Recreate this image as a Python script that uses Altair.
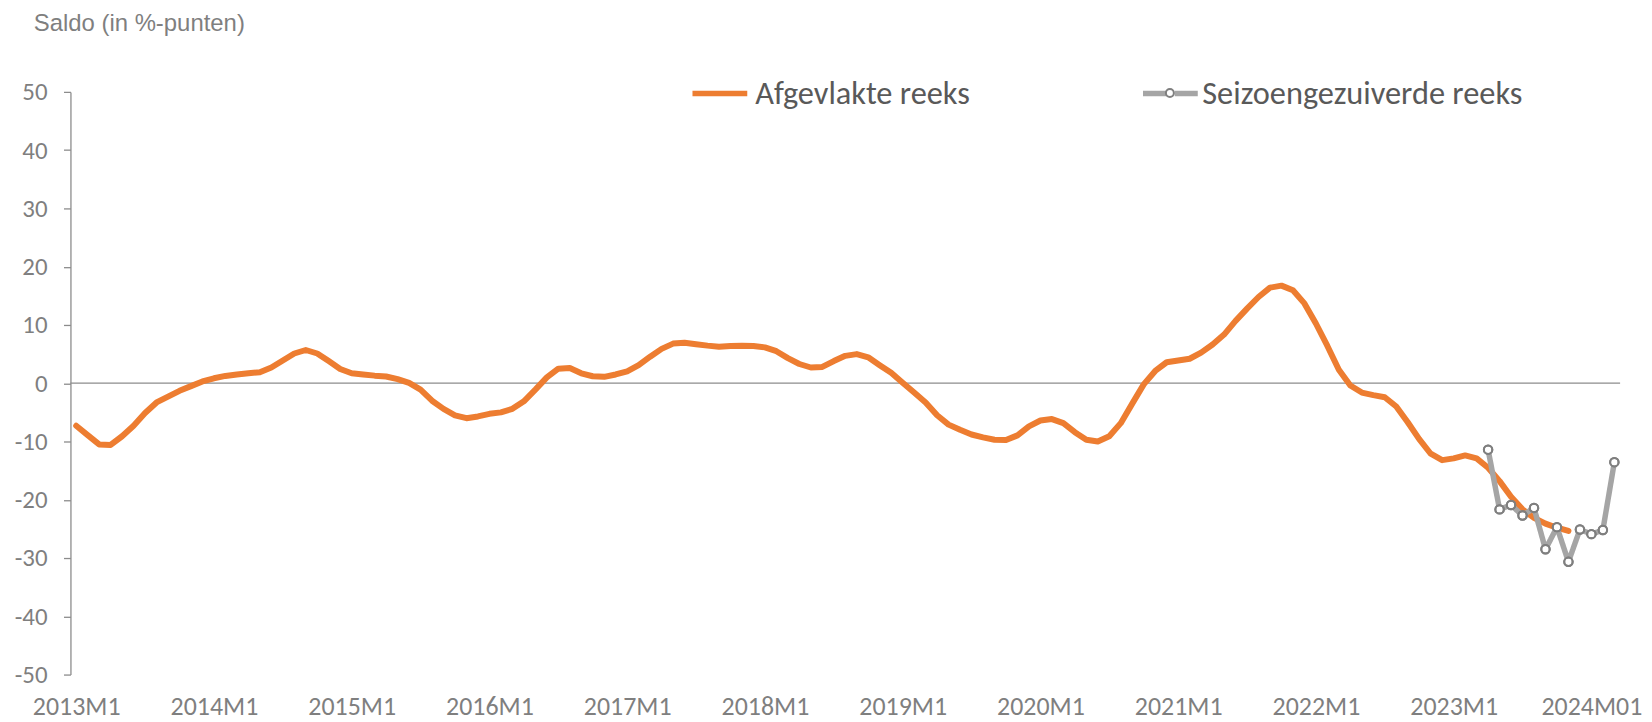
import json
import altair as alt
import pandas as pd

# ---------------- data ----------------
SMOOTH_NAME = "Afgevlakte reeks"
SEAS_NAME = "Seizoengezuiverde reeks"
Y_TITLE = "Saldo (in %-punten)"

# month index 0 = 2013M1
smooth_start = 0
smooth_values = [
    -7.3, -8.9, -10.5, -10.6, -9.1, -7.3, -5.1, -3.3, -2.3, -1.3, -0.5, 0.3,
    0.85, 1.25, 1.5, 1.7, 1.9, 2.7, 3.9, 5.1, 5.7, 5.1, 3.8, 2.45,
    1.7, 1.5, 1.3, 1.15, 0.7, 0.05, -1.1, -3.0, -4.4, -5.5, -6.0, -5.7,
    -5.25, -5.0, -4.4, -3.1, -1.1, 1.0, 2.5, 2.6, 1.7, 1.2, 1.1, 1.5,
    2.05, 3.1, 4.55, 5.9, 6.8, 6.95, 6.7, 6.45, 6.25, 6.4, 6.45, 6.4,
    6.15, 5.5, 4.3, 3.3, 2.7, 2.8, 3.8, 4.7, 5.0, 4.45, 3.1, 1.8,
    0.1, -1.6, -3.3, -5.5, -7.1, -8.0, -8.8, -9.3, -9.7, -9.75, -8.95, -7.4,
    -6.4, -6.15, -6.85, -8.4, -9.7, -10.0, -9.1, -6.85, -3.5, -0.2, 2.1, 3.6,
    3.9, 4.2, 5.25, 6.65, 8.35, 10.7, 12.8, 14.8, 16.4, 16.75, 15.95, 13.7,
    10.25, 6.4, 2.3, -0.4, -1.6, -2.05, -2.4, -4.0, -6.7, -9.6, -12.1, -13.2,
    -12.9, -12.4, -12.9, -14.5, -16.8, -19.5, -21.65, -23.1, -24.1, -24.8, -25.35,
]

seas_start = 123
seas_values = [-11.4, -21.65, -20.9, -22.7, -21.4, -28.5, -24.7, -30.65,
               -25.1, -25.9, -25.2, -13.55]

tick_positions = [0, 12, 24, 36, 48, 60, 72, 84, 96, 108, 120, 132]
tick_labels = ["2013M1", "2014M1", "2015M1", "2016M1", "2017M1", "2018M1",
               "2019M1", "2020M1", "2021M1", "2022M1", "2023M1", "2024M01"]
y_ticks = [-50, -40, -30, -20, -10, 0, 10, 20, 30, 40, 50]
x_domain = [-0.5, 134.5]
y_domain = [-50, 50]

df_smooth = pd.DataFrame({
    "idx": list(range(smooth_start, smooth_start + len(smooth_values))),
    "value": smooth_values,
    "series": SMOOTH_NAME,
})
df_seas = pd.DataFrame({
    "idx": list(range(seas_start, seas_start + len(seas_values))),
    "value": seas_values,
    "series": SEAS_NAME,
    "marker": "marker",
})
df_zero = pd.DataFrame({"value": [0]})

# ---------------- styles ----------------
ORANGE = "#ED7D31"
GRAY = "#A5A5A5"
MARKER_STROKE = "#7F7F7F"
AXIS_GRAY = "#8C8C8C"
LABEL_GRAY = "#7F7F7F"
LEGEND_TEXT = "#595959"
TICK_FONT = "Carlito, Calibri, Lato"
TITLE_FONT = "Liberation Sans, Arial"

label_expr = json.dumps(tick_labels) + "[indexof(" + json.dumps(tick_positions) + ", datum.value)]"
y_label_expr = "datum.value < 0 ? '-' + abs(datum.value) : '' + datum.value"

x_enc = alt.X(
    "idx:Q",
    scale=alt.Scale(domain=x_domain, nice=False, zero=False),
    axis=alt.Axis(values=tick_positions, labelExpr=label_expr, domain=False,
                  ticks=False, grid=False, title=None, labelFont=TICK_FONT,
                  labelFontSize=26, labelColor=LABEL_GRAY, labelPadding=19.5,
                  labelFlush=False, labelOverlap=False, labelBound=False),
)
y_enc = alt.Y(
    "value:Q",
    scale=alt.Scale(domain=y_domain, nice=False, zero=False),
    axis=alt.Axis(values=y_ticks, labelExpr=y_label_expr, grid=False,
                  domainColor=AXIS_GRAY,
                  domainWidth=1.3, tickColor=AXIS_GRAY, tickWidth=1.3,
                  tickSize=7, labelFont=TICK_FONT, labelFontSize=25,
                  labelColor=LABEL_GRAY, labelPadding=16.5,
                  title=Y_TITLE, titleAngle=0, titleAlign="left",
                  titleBaseline="alphabetic", titleX=-37.4, titleY=-61.5,
                  titleFont=TITLE_FONT, titleFontSize=24,
                  titleFontWeight="normal", titleColor=LABEL_GRAY),
)

zero_rule = alt.Chart(df_zero).mark_rule(color=AXIS_GRAY, strokeWidth=1.3).encode(
    y=alt.Y("value:Q")
)

LEG_Y = -28.8
LEG_B_X = 1073.8

legend_common = dict(orient="none", direction="horizontal", title=None,
                     padding=0, labelFont=TICK_FONT, labelFontSize=32.5,
                     labelColor=LEGEND_TEXT, labelLimit=600)

smooth_line = alt.Chart(df_smooth).mark_line(
    strokeWidth=6, strokeCap="round", strokeJoin="round"
).encode(
    x=x_enc, y=y_enc,
    color=alt.Color("series:N",
                    scale=alt.Scale(domain=[SMOOTH_NAME], range=[ORANGE]),
                    legend=alt.Legend(legendX=621.5, legendY=LEG_Y,
                                      symbolType="stroke", symbolSize=3025,
                                      symbolStrokeWidth=5.5, labelOffset=5,
                                      **legend_common)),
)

seas_line = alt.Chart(df_seas).mark_line(
    color=GRAY, strokeWidth=5.5, strokeJoin="round"
).encode(
    x="idx:Q", y="value:Q",
    strokeDash=alt.StrokeDash("series:N",
                              scale=alt.Scale(domain=[SEAS_NAME], range=[[1, 0]]),
                              legend=alt.Legend(legendX=LEG_B_X, legendY=LEG_Y,
                                                symbolType="M-1,0H-0.16M0.16,0H1",
                                                symbolSize=3025,
                                                symbolStrokeWidth=5.5,
                                                symbolStrokeColor=GRAY,
                                                labelOffset=1.5,
                                                **legend_common)),
)

seas_points = alt.Chart(df_seas).mark_point(
    filled=True, fill="white", stroke=MARKER_STROKE, strokeWidth=2,
    size=72, opacity=1
).encode(x="idx:Q", y="value:Q")

seas_rings = alt.Chart(df_seas).mark_point(
    filled=False, color=MARKER_STROKE, strokeWidth=2, size=72, opacity=1
).encode(
    x="idx:Q", y="value:Q",
    shape=alt.Shape("marker:N",
                    scale=alt.Scale(domain=["marker"], range=["circle"]),
                    legend=alt.Legend(orient="none", legendX=LEG_B_X + 25,
                                      legendY=LEG_Y + 25, title=None, padding=0,
                                      symbolSize=64,
                                      symbolStrokeColor=MARKER_STROKE,
                                      symbolStrokeWidth=2, labelExpr="''",
                                      labelFontSize=1, zindex=2)),
)

chart = alt.layer(zero_rule, smooth_line, seas_line, seas_points, seas_rings).resolve_legend(
    color="independent", strokeDash="independent", shape="independent"
).properties(
    width=1555.8,
    height=585,
    autosize=alt.AutoSizeParams(type="none"),
    padding={"left": 62.7, "top": 82.8, "right": 24, "bottom": 46},
).configure(background="white", view=alt.ViewConfig(stroke=None))

chart.save("out.html", embed_options={"renderer": "svg", "actions": False})
